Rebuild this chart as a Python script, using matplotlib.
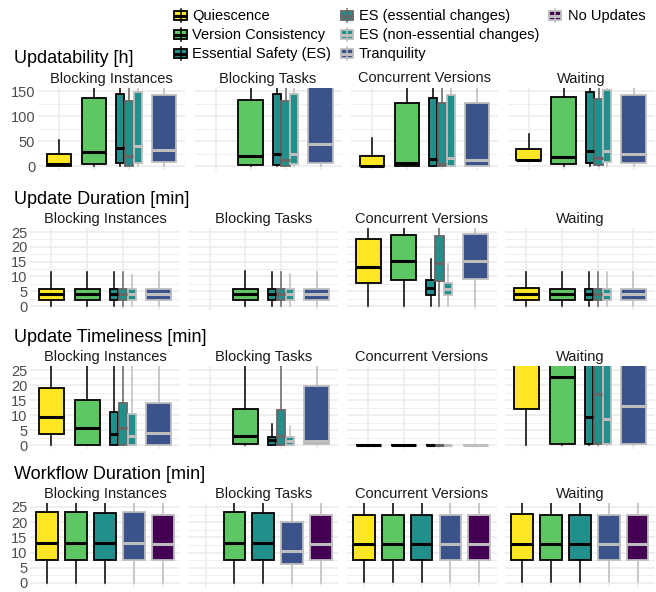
import matplotlib
matplotlib.use("Agg")
import matplotlib.pyplot as plt
from matplotlib.patches import Rectangle

plt.rcParams["font.family"] = ["Liberation Sans", "DejaVu Sans"]

# ---- data: five-number summaries (whisker lo, q1, median, q3, whisker hi)
#      one entry per facet, None where the strategy was not run
FACETS = ["Blocking Instances", "Blocking Tasks", "Concurrent Versions", "Waiting"]
METRICS = ["Updatability [h]", "Update Duration [min]",
           "Update Timeliness [min]", "Workflow Duration [min]"]
STRATEGIES = ["Quiescence", "Version Consistency", "Essential Safety (ES)",
              "ES (essential changes)", "ES (non-essential changes)",
              "Tranquility", "No Updates"]

updatability = {
    "Quiescence":                 [(0, 1, 4, 24, 53), None, (0, 0, 1, 21, 57), (12, 12, 13, 34, 64)],
    "Version Consistency":        [(0, 5, 29, 137, 200), (0, 2, 20, 133, 200), (0, 0, 7, 127, 200), (0, 5, 19, 139, 200)],
    "Essential Safety (ES)":      [(0, 7, 37, 145, 250), (0, 2, 25, 144, 250), (0, 0, 15, 137, 250), (0, 7, 31, 149, 250)],
    "ES (essential changes)":     [(0, 0, 21, 131, 250), (0, 0, 13, 131, 250), (0, 0, 5, 127, 250), (0, 2, 17, 135, 250)],
    "ES (non-essential changes)": [(0, 7, 40, 149, 250), (0, 5, 25, 145, 250), (0, 1, 17, 143, 250), (0, 9, 31, 152, 250)],
    "Tranquility":                [(0, 9, 33, 142, 250), (0, 6, 44, 170, 300), (0, 0, 12, 127, 250), (0, 7, 24, 142, 250)],
}

duration = {
    "Quiescence":                 [(0, 2, 3.9, 5.8, 11.6), None, (0, 7.7, 13.3, 22.6, 28), (0, 2, 4, 6, 11.6)],
    "Version Consistency":        [(0, 2, 3.9, 5.8, 11.6), (0, 2, 3.9, 5.8, 11.8), (0, 8.8, 15.2, 24, 28), (0, 2, 3.9, 5.8, 11.6)],
    "Essential Safety (ES)":      [(0, 2, 3.9, 5.7, 11.6), (0, 2, 3.9, 5.7, 11.6), (0, 3.7, 6.2, 8.8, 15.8), (0, 2, 3.9, 5.7, 11.4)],
    "ES (essential changes)":     [(0, 2, 4, 5.7, 11.6), (0, 2, 4, 5.7, 11.6), (0, 8.6, 14.6, 23.8, 30), (0, 2, 4, 5.7, 11.4)],
    "ES (non-essential changes)": [(0, 2, 3.9, 5.7, 10.5), (0, 2, 3.9, 5.7, 10.8), (0, 3.7, 5.7, 7.9, 14.1), (0, 2, 3.9, 5.7, 11.4)],
    "Tranquility":                [(0, 2, 4, 5.7, 11.6), (0, 2, 4, 5.7, 11.6), (0, 9, 15.2, 24.3, 30), (0, 2, 4, 5.7, 11.4)],
}

timeliness = {
    "Quiescence":                 [(0, 3.6, 9.4, 19.1, 40), None, (0, 0, 0, 0, 0), (0, 11.9, 30, 45, 80)],
    "Version Consistency":        [(0, 0, 5.6, 15, 40), (0, 0.2, 3.1, 12, 40), (0, 0, 0, 0, 0), (0, 0.5, 22.6, 35, 70)],
    "Essential Safety (ES)":      [(0, 0, 3.7, 10.9, 40), (0, 0, 1.7, 2.8, 6.9), (0, 0, 0, 0, 0), (0, 0.2, 9.2, 35, 70)],
    "ES (essential changes)":     [(0, 0, 5.6, 14.1, 40), (0, 0, 3, 11.7, 40), (0, 0, 0, 0, 0), (0, 0.3, 17, 40, 70)],
    "ES (non-essential changes)": [(0, 0, 3, 10.3, 30), (0, 0, 1.4, 2.6, 6.3), (0, 0, 0, 0, 0), (0, 0.5, 8.7, 35, 70)],
    "Tranquility":                [(0, 0, 3.9, 13.9, 40), (0, 0.3, 1.4, 19.8, 40), (0, 0, 0, 0, 0), (0, 0.5, 13.1, 38, 70)],
}

workflow = {
    "Quiescence":            [(0, 7.6, 13.3, 23.5, 30), None, (0.4, 7.6, 12.7, 22.4, 30), (0.4, 7.6, 12.7, 22.6, 30)],
    "Version Consistency":   [(0, 7.6, 13.3, 23.2, 30), (0, 7.6, 13.3, 23.2, 30), (0.4, 7.6, 12.7, 22.4, 30), (0.4, 7.6, 12.7, 22.4, 30)],
    "Essential Safety (ES)": [(0, 7.6, 13.1, 23, 30), (0, 7.6, 13.3, 22.9, 30), (0.4, 7.6, 12.7, 22.4, 30), (0.4, 7.6, 12.7, 22.4, 30)],
    "Tranquility":           [(0, 7.6, 13.3, 23.2, 30), (0, 6.1, 10.6, 20, 30), (0.4, 7.6, 12.7, 22.4, 30), (0.4, 7.6, 12.7, 22.4, 30)],
    "No Updates":            [(0, 7.6, 12.8, 22.4, 30), (0, 7.6, 12.7, 22.3, 30), (0.4, 7.6, 12.7, 22.4, 30), (0.4, 7.6, 12.7, 22.4, 30)],
}

ROW_DATA = [updatability, duration, timeliness, workflow]

# ---- styles
FILL = {"Quiescence": "#FDE725", "Version Consistency": "#5DC863",
        "Essential Safety (ES)": "#21908C", "ES (essential changes)": "#21908C",
        "ES (non-essential changes)": "#21908C", "Tranquility": "#3B528B",
        "No Updates": "#440154"}
EDGE = {"Quiescence": "black", "Version Consistency": "black",
        "Essential Safety (ES)": "black", "ES (essential changes)": "#666666",
        "ES (non-essential changes)": "#BEBEBE", "Tranquility": "#BEBEBE",
        "No Updates": "#BEBEBE"}

# x slot and box width per strategy (rows 1-3 dodge the ES variants)
SLOTS_ES = {"Quiescence": (1, 0.7), "Version Consistency": (2, 0.7),
            "Essential Safety (ES)": (2.75, 0.23), "ES (essential changes)": (3, 0.23),
            "ES (non-essential changes)": (3.25, 0.23), "Tranquility": (4, 0.7)}
SLOTS_WF = {"Quiescence": (1, 0.75), "Version Consistency": (2, 0.75),
            "Essential Safety (ES)": (3, 0.75), "Tranquility": (4, 0.75),
            "No Updates": (5, 0.75)}
ROW_SLOTS = [SLOTS_ES, SLOTS_ES, SLOTS_ES, SLOTS_WF]

W, H = 656, 592
fig = plt.figure(figsize=(W / 100, H / 100), dpi=100)

# pixel layout (each row is its own strip of facets)
row_top = [87.5, 228.3, 366.3, 503.2]
row_bot = [169.8, 309.7, 448.8, 586.8]
row_left = [38, 30, 30, 30]
row_w = [147, 150, 150, 150]
row_step = [156.5, 158.3, 158.3, 158.3]
row_ylim = [(-7.5, 157.5), (-1.25, 26.25), (-1.25, 26.25), (-1.25, 26.25)]
row_major = [[0, 50, 100, 150]] + [[0, 5, 10, 15, 20, 25]] * 3
row_minor = [[25, 75, 125]] + [[2.5, 7.5, 12.5, 17.5, 22.5]] * 3

GRID = "#EBEBEB"
SMALL = 10.5

for r in range(4):
    data = ROW_DATA[r]
    slots = ROW_SLOTS[r]
    ncat = int(max(p for p, _ in slots.values()) + 0.5)
    for c in range(4):
        left = row_left[r] + c * row_step[r]
        ax = fig.add_axes([left / W, 1 - row_bot[r] / H, row_w[r] / W,
                           (row_bot[r] - row_top[r]) / H])
        ax.set_xlim(0.4, ncat + 0.6)
        ax.set_ylim(*row_ylim[r])
        ax.set_xticks(range(1, ncat + 1))
        ax.set_yticks(row_major[r])
        ax.set_yticks(row_minor[r], minor=True)
        ax.grid(True, which="major", color=GRID, lw=1.1)
        ax.grid(True, which="minor", axis="y", color=GRID, lw=0.55)
        ax.set_axisbelow(True)
        for s in ax.spines.values():
            s.set_visible(False)
        ax.tick_params(which="both", length=0, labelbottom=False,
                       labelleft=(c == 0), labelsize=SMALL,
                       labelcolor="#4D4D4D", pad=2)

        for name, (pos, w) in slots.items():
            st = data[name][c]
            if st is None:
                continue
            lo, q1, med, q3, hi = st
            stats = [dict(whislo=lo, q1=q1, med=med, q3=q3, whishi=hi, fliers=[])]
            ax.bxp(stats, positions=[pos], widths=w, patch_artist=True,
                   showcaps=False, showfliers=False, manage_ticks=False,
                   boxprops=dict(facecolor=FILL[name], edgecolor=EDGE[name], lw=1.3),
                   medianprops=dict(color=EDGE[name], lw=2.2, solid_capstyle="butt"),
                   whiskerprops=dict(color=EDGE[name], lw=1.1))

        ax.annotate(FACETS[c], xy=(0.5, 1), xycoords="axes fraction",
                    xytext=(0, 3.6), textcoords="offset points",
                    ha="center", va="baseline", fontsize=SMALL, color="#1A1A1A")

# overlay in pixel coordinates for row titles and legend
ov = fig.add_axes([0, 0, 1, 1])
ov.set_xlim(0, W)
ov.set_ylim(H, 0)
ov.axis("off")
ov.patch.set_visible(False)

for r in range(4):
    ov.text(14, row_top[r] - 24.5, METRICS[r], fontsize=13, ha="left", va="baseline")

# legend: three columns, keys drawn like ggplot boxplot keys
leg_cols = [STRATEGIES[0:3], STRATEGIES[3:6], STRATEGIES[6:7]]
key_x = [180.5, 347, 555]
text_x = [192.5, 359, 568]
row_y = [15.5, 34.5, 53.5]
ks = 17
for ci, names in enumerate(leg_cols):
    for ri, name in enumerate(names):
        cx, cy = key_x[ci], row_y[ri]
        ov.plot([cx, cx], [cy - 0.4 * ks, cy + 0.4 * ks], color=EDGE[name], lw=1.1)
        ov.add_patch(Rectangle((cx - 0.375 * ks, cy - 0.25 * ks), 0.75 * ks, 0.5 * ks,
                               facecolor=FILL[name], edgecolor=EDGE[name], lw=1.3))
        ov.plot([cx - 0.375 * ks, cx + 0.375 * ks], [cy, cy], color=EDGE[name],
                lw=2.2, solid_capstyle="butt")
        ov.text(text_x[ci], cy + 4.5, name, fontsize=SMALL, ha="left", va="baseline")

fig.savefig("out.png", dpi=100)
